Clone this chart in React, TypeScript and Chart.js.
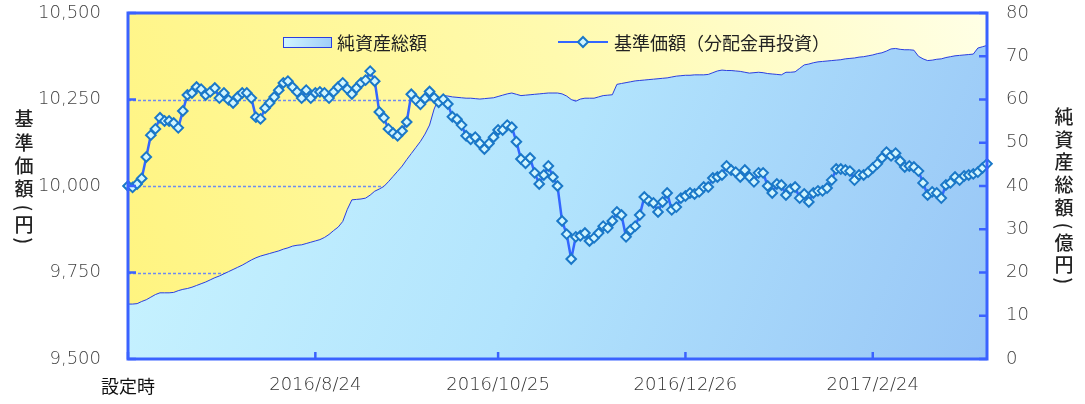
import React, { useEffect, useRef } from 'react';
import { Chart, registerables } from 'chart.js';

Chart.register(...registerables);

// ---- data ----
const xTickLabels = ['設定時', '2016/8/24', '2016/10/25', '2016/12/26', '2017/2/24'];
const xTickIndex = [0, 41, 81, 122, 163];

// 基準価額（分配金再投資） (円)
const navValues = [
  10000, 9996, 10006, 10022, 10084, 10147, 10165, 10197, 10188, 10188,
  10182, 10168, 10217, 10263, 10269, 10286, 10280, 10263, 10272, 10283,
  10254, 10269, 10249, 10240, 10257, 10269, 10269, 10254, 10199, 10194,
  10225, 10240, 10257, 10277, 10298, 10303, 10286, 10272, 10254, 10277,
  10254, 10269, 10272, 10269, 10254, 10272, 10286, 10298, 10280, 10266,
  10283, 10298, 10306, 10332, 10303, 10214, 10197, 10165, 10153, 10145,
  10159, 10185, 10265, 10249, 10236, 10253, 10273, 10255, 10242, 10251,
  10237, 10200, 10193, 10176, 10145, 10135, 10141, 10123, 10107, 10123,
  10141, 10162, 10162, 10176, 10170, 10128, 10078, 10066, 10081, 10038,
  10006, 10032, 10058, 10026, 10000, 9899, 9861, 9789, 9853, 9856,
  9864, 9841, 9850, 9864, 9884, 9879, 9899, 9925, 9916, 9853,
  9873, 9884, 9916, 9968, 9957, 9951, 9925, 9954, 9980, 9931,
  9939, 9965, 9971, 9980, 9977, 9983, 9997, 9997, 10023, 10026,
  10032, 10058, 10046, 10040, 10026, 10046, 10026, 10012, 10038, 10038,
  10000, 9980, 10006, 10003, 9974, 9991, 9997, 9965, 9977, 9954,
  9980, 9986, 9986, 9994, 10017, 10049, 10049, 10046, 10043, 10017,
  10032, 10032, 10040, 10052, 10064, 10081, 10098, 10087, 10095, 10072,
  10055, 10058, 10055, 10043, 10009, 9974, 9983, 9980, 9965, 10003,
  10009, 10026, 10017, 10029, 10032, 10035, 10040, 10052, 10064,
];

// 純資産総額 (億円)
const netAssets = [
  12.7, 12.7, 12.8, 13.3, 13.7, 14.3, 14.9, 15.3, 15.3, 15.3,
  15.4, 15.8, 16.1, 16.3, 16.6, 17.0, 17.4, 17.8, 18.3, 18.8,
  19.2, 19.7, 20.2, 20.7, 21.2, 21.7, 22.3, 22.9, 23.4, 23.8,
  24.1, 24.4, 24.7, 25.0, 25.4, 25.7, 26.1, 26.3, 26.4, 26.7,
  27.0, 27.3, 27.6, 28.1, 28.8, 29.7, 30.5, 31.8, 34.6, 36.8,
  36.9, 37.0, 37.2, 37.9, 38.8, 39.3, 39.9, 41.0, 42.2, 43.4,
  44.6, 46.1, 47.5, 48.9, 50.3, 52.0, 54.1, 57.8, 60.2, 60.9,
  60.8, 60.6, 60.5, 60.4, 60.3, 60.3, 60.2, 60.1, 60.2, 60.3,
  60.4, 60.7, 61.0, 61.3, 61.5, 61.2, 60.9, 61.0, 61.1, 61.2,
  61.3, 61.4, 61.5, 61.5, 61.5, 61.3, 60.8, 60.0, 59.6, 60.1,
  60.3, 60.3, 60.3, 60.6, 60.9, 61.0, 61.1, 63.5, 63.7, 63.9,
  64.1, 64.3, 64.4, 64.5, 64.6, 64.7, 64.8, 64.9, 65.0, 65.2,
  65.4, 65.5, 65.6, 65.6, 65.7, 65.7, 65.7, 65.8, 66.2,
  66.6, 66.8, 66.7, 66.7, 66.6, 66.5, 66.3, 66.1, 66.2, 66.3,
  66.2, 66.0, 65.9, 65.8, 65.7, 66.3, 66.3, 66.4, 67.2, 68.0,
  68.2, 68.5, 68.7, 68.8, 68.9, 69.0, 69.1, 69.2, 69.4, 69.5,
  69.6, 69.8, 69.9, 70.1, 70.3, 70.6, 70.8, 71.2, 71.7, 71.8,
  71.6, 71.5, 71.5, 71.4, 70.0, 69.4, 69.0, 69.1, 69.3, 69.4,
  69.7, 69.9, 70.1, 70.2, 70.3, 70.4, 70.5, 71.9, 72.2, 72.5,
];

const leftTicks = [9500, 9750, 10000, 10250, 10500];
const rightTicks = [0, 10, 20, 30, 40, 50, 60, 70, 80];

const categories = navValues.map((_, i) => {
  const k = xTickIndex.indexOf(i);
  return k >= 0 ? xTickLabels[k] : '';
});

// vertical titles: parentheses are drawn rotated (vertical writing)
const leftTitle = ['基', '準', '価', '額', '(', '円', ')'];
const rightTitle = ['純', '資', '産', '総', '額', '(', '億', '円', ')'];
const legendArea = '純資産総額';
const legendLine = '基準価額（分配金再投資）';

const FONT = '"Noto Sans CJK JP", "Noto Sans", sans-serif';
const NUMFONT = '"DejaVu Sans", sans-serif';
const FRAME = '#3a62ff';

function drawVertical(ctx: any, chars: string[], x: number, ys: number[]) {
  chars.forEach((c, i) => {
    if (c === '(' || c === ')') {
      ctx.save();
      ctx.translate(x, ys[i]);
      ctx.rotate(Math.PI / 2);
      ctx.fillText(c, 0, 0);
      ctx.restore();
    } else {
      ctx.fillText(c, x, ys[i]);
    }
  });
}

const decorPlugin = {
  id: 'decor',
  beforeDraw(chart: any) {
    const { ctx, chartArea: a } = chart;
    if (!a) return;
    const g = ctx.createLinearGradient(a.left, a.bottom, a.right, a.top);
    g.addColorStop(0, '#fff47e');
    g.addColorStop(0.55, '#fffaae');
    g.addColorStop(1, '#ffffe6');
    ctx.save();
    ctx.fillStyle = g;
    ctx.fillRect(a.left, a.top, a.right - a.left, a.bottom - a.top);
    ctx.restore();
  },
  beforeDatasetsDraw(chart: any) {
    const { ctx, chartArea: a, scales } = chart;
    const y = scales.y;
    ctx.save();
    ctx.strokeStyle = '#6f8cf0';
    ctx.lineWidth = 1.5;
    ctx.setLineDash([3, 2]);
    leftTicks.forEach((v) => {
      if (v === leftTicks[0] || v === leftTicks[leftTicks.length - 1]) return;
      const py = Math.round(y.getPixelForValue(v)) + 0.5;
      ctx.beginPath();
      ctx.moveTo(a.left, py);
      ctx.lineTo(a.right, py);
      ctx.stroke();
    });
    ctx.restore();
  },
  afterDatasetsDraw(chart: any) {
    const { ctx, chartArea: a, scales } = chart;
    ctx.save();
    // tick marks (inward)
    ctx.strokeStyle = FRAME;
    ctx.lineWidth = 2.5;
    leftTicks.forEach((v) => {
      const py = scales.y.getPixelForValue(v);
      ctx.beginPath();
      ctx.moveTo(a.left, py);
      ctx.lineTo(a.left + 8, py);
      ctx.stroke();
    });
    rightTicks.forEach((v) => {
      const py = scales.y1.getPixelForValue(v);
      ctx.beginPath();
      ctx.moveTo(a.right, py);
      ctx.lineTo(a.right - 8, py);
      ctx.stroke();
    });
    xTickIndex.forEach((i) => {
      const px = scales.x.getPixelForValue(i);
      ctx.beginPath();
      ctx.moveTo(px, a.bottom);
      ctx.lineTo(px, a.bottom - 7);
      ctx.stroke();
    });
    // frame
    ctx.lineWidth = 3;
    ctx.strokeRect(a.left, a.top, a.right - a.left, a.bottom - a.top);

    // legend
    const bx = 283, by = 37, bw = 48, bh = 10;
    const lg = ctx.createLinearGradient(bx, by, bx + bw, by + bh);
    lg.addColorStop(0, '#d2f7ff');
    lg.addColorStop(1, '#9fcdf8');
    ctx.fillStyle = lg;
    ctx.fillRect(bx, by, bw, bh);
    ctx.lineWidth = 1;
    ctx.strokeStyle = '#2a3ee0';
    ctx.strokeRect(bx + 0.5, by + 0.5, bw, bh);
    ctx.fillStyle = '#222';
    ctx.font = `18px ${FONT}`;
    ctx.textBaseline = 'middle';
    ctx.textAlign = 'left';
    ctx.fillText(legendArea, 337, 43);

    ctx.strokeStyle = '#3366ff';
    ctx.lineWidth = 2;
    ctx.beginPath();
    ctx.moveTo(558, 42);
    ctx.lineTo(608, 42);
    ctx.stroke();
    ctx.beginPath();
    ctx.moveTo(583, 37);
    ctx.lineTo(588, 42);
    ctx.lineTo(583, 47);
    ctx.lineTo(578, 42);
    ctx.closePath();
    ctx.fillStyle = '#d0f5ff';
    ctx.fill();
    ctx.strokeStyle = '#1a78c8';
    ctx.stroke();
    ctx.fillStyle = '#222';
    ctx.fillText(legendLine, 614, 43);

    // vertical axis titles
    ctx.font = `500 19px ${FONT}`;
    ctx.textAlign = 'center';
    ctx.fillStyle = '#222';
    drawVertical(ctx, leftTitle, 24, [119, 143, 166, 189, 208, 225, 241]);
    drawVertical(ctx, rightTitle, 1064, [117, 140, 162, 185, 208, 226, 243, 265, 281]);
    ctx.restore();
  },
};

export default function App() {
  const ref = useRef<HTMLCanvasElement | null>(null);
  useEffect(() => {
    if (!ref.current) return;
    const chart = new Chart(ref.current, {
      type: 'line',
      data: {
        labels: categories,
        datasets: [
          {
            label: legendLine,
            data: navValues,
            yAxisID: 'y',
            order: 0,
            borderColor: '#3366ff',
            borderWidth: 2.5,
            pointStyle: 'rectRot',
            pointRadius: 4.8,
            pointBorderWidth: 2,
            pointBorderColor: '#1a78c8',
            pointBackgroundColor: '#d0f5ff',
            tension: 0,
            fill: false,
          },
          {
            label: legendArea,
            data: netAssets,
            yAxisID: 'y1',
            order: 1,
            borderColor: '#2a3ee0',
            borderWidth: 1,
            pointRadius: 0,
            tension: 0,
            fill: 'origin',
            backgroundColor: (c: any) => {
              const a = c.chart.chartArea;
              if (!a) return '#bde9ff';
              const g = c.chart.ctx.createLinearGradient(a.left, a.top, a.right, a.bottom);
              g.addColorStop(0, '#cbf5ff');
              g.addColorStop(0.5, '#b2e4fd');
              g.addColorStop(1, '#98c6f6');
              return g;
            },
          },
        ],
      },
      options: {
        responsive: false,
        animation: false,
        layout: { padding: { top: 13, left: 0, right: 0, bottom: 0 } },
        plugins: { legend: { display: false }, tooltip: { enabled: false }, title: { display: false } },
        scales: {
          x: {
            type: 'category',
            offset: false,
            grid: { display: false, drawTicks: false },
            border: { display: false },
            afterFit: (s: any) => { s.height = 45; s.paddingLeft = 0; s.paddingRight = 0; },
            ticks: {
              autoSkip: false,
              maxRotation: 0,
              minRotation: 0,
              padding: 16,
              color: (c: any) => (c.index === 0 ? '#111' : '#333'),
              font: (c: any) => (c.index === 0
                ? { family: FONT, size: 18, weight: '400' }
                : { family: NUMFONT, size: 18, weight: '200' }),
              callback: (_v: any, i: number) => categories[i],
            },
          },
          y: {
            position: 'left',
            min: 9500,
            max: 10500,
            grid: { display: false, drawTicks: false },
            border: { display: false },
            afterFit: (s: any) => { s.width = 128; s.paddingTop = 0; s.paddingBottom = 0; },
            afterBuildTicks: (s: any) => { s.ticks = leftTicks.map((v) => ({ value: v })); },
            ticks: {
              padding: 27,
              color: '#444',
              font: { family: NUMFONT, size: 18, weight: '200' },
              callback: (v: any) => Number(v).toLocaleString('en-US'),
            },
          },
          y1: {
            position: 'right',
            min: 0,
            max: 80,
            grid: { display: false, drawTicks: false },
            border: { display: false },
            afterFit: (s: any) => { s.width = 98; s.paddingTop = 0; s.paddingBottom = 0; },
            afterBuildTicks: (s: any) => { s.ticks = rightTicks.map((v) => ({ value: v })); },
            ticks: {
              padding: 19,
              color: '#444',
              font: { family: NUMFONT, size: 18, weight: '200' },
            },
          },
        },
      },
      plugins: [decorPlugin],
    });
    return () => chart.destroy();
  }, []);
  return (
    <div style={{ position: 'absolute', left: 0, top: 0, width: 1085, height: 404, background: '#fff' }}>
      <canvas ref={ref} width={1085} height={404} style={{ display: 'block' }} />
    </div>
  );
}
